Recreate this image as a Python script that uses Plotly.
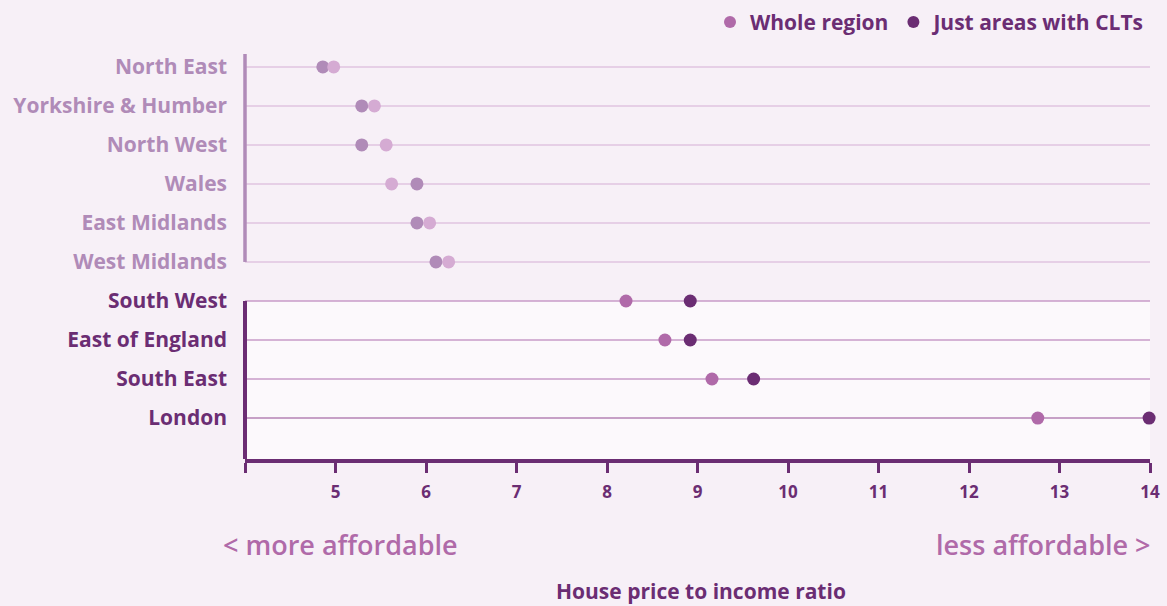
import plotly.graph_objects as go

# data
regions = [
    "North East", "Yorkshire & Humber", "North West", "Wales", "East Midlands",
    "West Midlands", "South West", "East of England", "South East", "London",
]
whole_region = [4.98, 5.43, 5.56, 5.62, 6.04, 6.25, 8.21, 8.64, 9.16, 12.76]
clt_areas = [4.86, 5.29, 5.29, 5.90, 5.90, 6.11, 8.92, 8.92, 9.62, 13.99]
south = ["South West", "East of England", "South East", "London"]

x_ticks = [4, 5, 6, 7, 8, 9, 10, 11, 12, 13, 14]
x_tick_labels = ["", "5", "6", "7", "8", "9", "10", "11", "12", "13", "14"]

BG = "#f7f0f7"
PANEL = "#fcf9fc"
DARK = "#6b2d73"
MID = "#b06aa9"
MUTED = "#b08bb8"
PALE = "#d5abd3"
FONT = "Open Sans, sans-serif"

north_idx = [i for i, r in enumerate(regions) if r not in south]
south_idx = [i for i, r in enumerate(regions) if r in south]


def pick(values, idx):
    return [values[i] for i in idx]


fig = go.Figure()

# north regions drawn muted, no legend entry
fig.add_trace(go.Scatter(
    x=pick(clt_areas, north_idx), y=pick(regions, north_idx),
    mode="markers", marker=dict(color=MUTED, size=13),
    showlegend=False, cliponaxis=False, hoverinfo="x+y",
))
fig.add_trace(go.Scatter(
    x=pick(whole_region, north_idx), y=pick(regions, north_idx),
    mode="markers", marker=dict(color=PALE, size=13),
    showlegend=False, cliponaxis=False, hoverinfo="x+y",
))
fig.add_trace(go.Scatter(
    x=pick(clt_areas, south_idx), y=pick(regions, south_idx),
    mode="markers", marker=dict(color=DARK, size=13),
    name="Just areas with CLTs", legendrank=2, cliponaxis=False, hoverinfo="x+y",
))
fig.add_trace(go.Scatter(
    x=pick(whole_region, south_idx), y=pick(regions, south_idx),
    mode="markers", marker=dict(color=MID, size=13),
    name="Whole region", legendrank=1, cliponaxis=False, hoverinfo="x+y",
))

n = len(regions)
y_top = -0.33
y_bottom = n - 1 + 1.05
first_south = regions.index(south[0])

shapes = [
    # lighter panel behind the southern regions
    dict(type="rect", xref="x", yref="y", x0=4, x1=14.03, y0=first_south, y1=y_bottom,
         fillcolor=PANEL, line_width=0, layer="below"),
]
for r in regions:
    if r in south:
        col = "#b683b6" if r == "London" else "#c99bc8"
    else:
        col = "#e0c5e0"
    shapes.append(dict(type="line", xref="x", yref="y", x0=4, x1=14, y0=r, y1=r,
                       line=dict(color=col, width=1.5), layer="below"))
# split left axis line (paper x so it is not clipped at the plot edge)
shapes.append(dict(type="line", xref="paper", yref="y", x0=0, x1=0, y0=y_top, y1=first_south - 1,
                   line=dict(color=MUTED, width=3.5)))
shapes.append(dict(type="line", xref="paper", yref="y", x0=0, x1=0, y0=first_south, y1=y_bottom,
                   line=dict(color=DARK, width=4)))

tick_text = [
    f"<span style='color:{DARK if r in south else MUTED}'>{r}</span>" for r in regions
]

fig.update_layout(
    width=1167, height=606,
    paper_bgcolor=BG, plot_bgcolor=BG,
    font=dict(family=FONT, color=DARK),
    margin=dict(l=245, r=17, t=54, b=147),
    shapes=shapes,
    showlegend=True,
    legend=dict(
        orientation="h", x=1.0, xanchor="right", y=0.997, yref="container",
        yanchor="top", bgcolor="rgba(0,0,0,0)",
        font=dict(family=FONT, size=21, color=DARK, weight=700),
        itemsizing="constant", traceorder="normal",
    ),
    xaxis=dict(
        range=[4, 14], tickvals=x_ticks, ticktext=x_tick_labels,
        showgrid=False, zeroline=False, automargin=False,
        showline=True, linecolor=DARK, linewidth=4,
        ticks="outside", ticklen=10, tickwidth=3, tickcolor=DARK,
        tickfont=dict(family=FONT, size=17, color=DARK, weight=700),
        ticklabelstandoff=5,
    ),
    yaxis=dict(
        type="category", categoryorder="array", categoryarray=regions,
        range=[y_bottom, y_top], automargin=False,
        tickvals=regions, ticktext=tick_text,
        showgrid=False, zeroline=False, showline=False, ticks="",
        tickfont=dict(family=FONT, size=21, weight=700),
        ticklabelstandoff=17,
    ),
    annotations=[
        dict(text="< more affordable", xref="paper", yref="paper", x=-0.026, y=-0.21,
             xanchor="left", yanchor="middle", showarrow=False,
             font=dict(family=FONT, size=27, color=MID, weight=600)),
        dict(text="less affordable >", xref="paper", yref="paper", x=1.003, y=-0.21,
             xanchor="right", yanchor="middle", showarrow=False,
             font=dict(family=FONT, size=27, color=MID, weight=600)),
        dict(text="House price to income ratio", xref="paper", yref="paper", x=0.504, y=-0.325,
             xanchor="center", yanchor="middle", showarrow=False,
             font=dict(family=FONT, size=21, color=DARK, weight=700)),
    ],
)

fig.write_html("out.html", config={"displayModeBar": False},
               post_script="document.body.style.margin='0';")
